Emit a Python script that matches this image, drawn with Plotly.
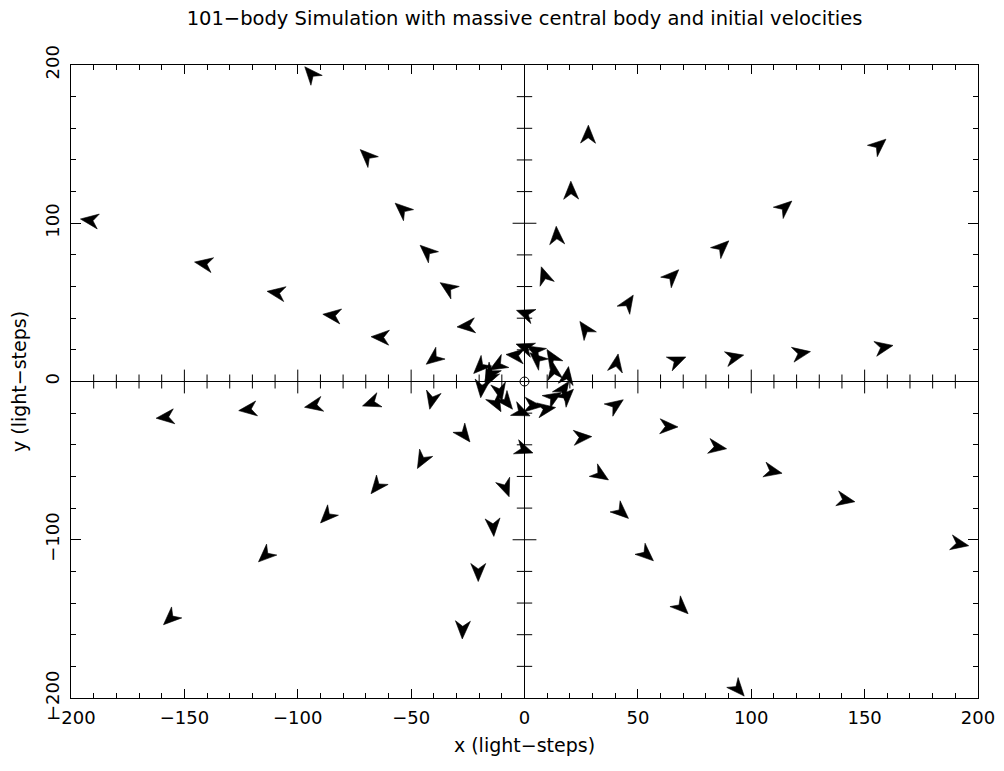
import math
import plotly.graph_objects as go

# ---- data: body positions (light-steps) and velocity direction (deg, clockwise from up) ----
body_x = [
    -94.3, -69.6, -54.1, -43.1, -33.9, -25.8,
    -191.9, -141.6, -109.6, -85.0, -63.7, -40.2,
    -158.5, -122.1, -93.1, -67.7, -40.9,
    -156.3, -114.4, -87.2, -65.2, -45.3, -26.5,
    -27.3, -20.4, -13.8, -8.2, 0.0,
    94.3, 69.3, 53.9, 42.9, 33.7, 25.7,
    192.0, 141.8, 109.7, 85.2, 63.7, 40.3,
    158.6, 122.2, 92.8, 67.5, 40.6,
    156.4, 114.9, 87.2, 65.2, 45.8, 26.7,
    28.1, 20.5, 14.2, 8.7, 0.2,
    0.0, -4.2, 5.4, 12.0, 12.9, 18.8, 17.3, 18.8, 12.9, 9.8, 3.9,
    -1.2, -7.8, -12.3, -10.8, -18.9, -15.7, -19.6, -12.0, -15.2, 4.6,
]
body_y = [
    194.6, 142.6, 108.9, 82.3, 59.3, 35.0,
    101.9, 74.5, 56.1, 41.8, 28.0, 14.4,
    -22.6, -17.7, -15.2, -13.5, -12.0,
    -149.8, -110.1, -85.3, -66.5, -50.0, -33.7,
    -157.0, -120.7, -92.2, -67.5, -43.2,
    -194.5, -142.8, -109.5, -82.7, -59.1, -35.2,
    -102.7, -74.9, -56.8, -41.6, -28.5, -14.8,
    21.7, 17.9, 15.4, 13.3, 11.8,
    149.4, 110.3, 85.0, 66.6, 49.8, 33.3,
    156.3, 120.9, 92.4, 67.1, 43.0,
    21.7, 16.5, 14.4, 15.4, 7.0, 3.8, -4.6, -8.9, -9.9, -17.3, -15.2,
    -19.4, -13.1, -14.1, -6.8, -4.6, 1.7, 9.1, 10.1, 4.9, 19.6,
]
body_dir = [
    319, 314, 312, 312, 304, 265,
    278, 280, 279, 277, 273, 232,
    264, 263, 259, 250, 193,
    227, 227, 224, 219, 209, 142,
    182, 180, 176, 159, 110,
    139, 134, 132, 132, 123, 86,
    101, 101, 102, 99, 92, 55,
    79, 80, 77, 67, 10,
    49, 49, 47, 45, 33, 325,
    1, 359, 357, 341, 290,
    290, 276, 311, 328, 351, 9, 35, 45, 58, 81, 96,
    114, 141, 151, 168, 186, 206, 225, 240, 215, 300,
]
central_x = [0.0]
central_y = [0.0]

TITLE = "101\u2212body Simulation with massive central body and initial velocities"
XLABEL = "x (light\u2212steps)"
YLABEL = "y (light\u2212steps)"

# ---- layout geometry (page has an 8px body margin) ----
W, H = 996, 763
M = dict(l=63, r=26, t=57, b=73)
XR = [-200, 200]
YR = [-200, 200]
sx = (W - M["l"] - M["r"]) / (XR[1] - XR[0])  # px per unit
sy = (H - M["t"] - M["b"]) / (YR[1] - YR[0])

FONT = "DejaVu Sans"

# arrowhead geometry (pixels)
L = 18.0
HW = 7.5
VENT = 0.3

ax_, ay_ = [], []
for x, y, b in zip(body_x, body_y, body_dir):
    r = math.radians(b)
    ux, uy = math.sin(r), math.cos(r)      # screen right, screen up
    qx, qy = uy, -ux                        # perpendicular
    pts = [
        (0.5 * L * ux, 0.5 * L * uy),
        (-0.5 * L * ux + HW * qx, -0.5 * L * uy + HW * qy),
        ((0.5 - 1 + VENT) * L * ux, (0.5 - 1 + VENT) * L * uy),
        (-0.5 * L * ux - HW * qx, -0.5 * L * uy - HW * qy),
        (0.5 * L * ux, 0.5 * L * uy),
    ]
    for dx, dy in pts:
        ax_.append(x + dx / sx)
        ay_.append(y + dy / sy)
    ax_.append(None)
    ay_.append(None)

fig = go.Figure()

# ticks on the zero axes (crossing ticks)
xt_minor = [v for v in range(-190, 200, 10) if v % 50 != 0]
xt_major = [v for v in range(-150, 200, 50) if v != 0]
yt_minor = [v for v in range(-180, 200, 20) if v % 100 != 0]
yt_major = [-100, 100]

fig.add_trace(go.Scatter(x=xt_minor, y=[0] * len(xt_minor), mode="markers",
                         marker=dict(symbol="line-ns", size=10, line=dict(color="black", width=1)),
                         hoverinfo="skip", showlegend=False))
fig.add_trace(go.Scatter(x=xt_major, y=[0] * len(xt_major), mode="markers",
                         marker=dict(symbol="line-ns", size=17, line=dict(color="black", width=1)),
                         hoverinfo="skip", showlegend=False))
fig.add_trace(go.Scatter(x=[0] * len(yt_minor), y=yt_minor, mode="markers",
                         marker=dict(symbol="line-ew", size=11, line=dict(color="black", width=1)),
                         hoverinfo="skip", showlegend=False))
fig.add_trace(go.Scatter(x=[0] * len(yt_major), y=yt_major, mode="markers",
                         marker=dict(symbol="line-ew", size=17, line=dict(color="black", width=1)),
                         hoverinfo="skip", showlegend=False))

# arrows
fig.add_trace(go.Scatter(x=ax_, y=ay_, mode="lines", fill="toself",
                         fillcolor="black", line=dict(color="black", width=0.6),
                         hoverinfo="skip", showlegend=False))

# central body
fig.add_trace(go.Scatter(x=central_x, y=central_y, mode="markers",
                         marker=dict(symbol="circle-open", size=9, color="black",
                                     line=dict(color="black", width=1)),
                         hoverinfo="skip", showlegend=False))

axis_common = dict(
    showgrid=False, zeroline=True, zerolinecolor="black", zerolinewidth=1,
    showline=True, linecolor="black", linewidth=1, mirror="allticks",
    ticks="inside", tickcolor="black", tickwidth=1, automargin=False,
    tickfont=dict(family=FONT, size=18, color="black"),
)

fig.update_layout(
    width=W, height=H, margin=dict(M, autoexpand=False),
    paper_bgcolor="white", plot_bgcolor="white",
    showlegend=False,
    title=dict(text=TITLE, x=0.5, xref="paper", xanchor="center",
               y=1 - 10 / H, yref="container", yanchor="middle", automargin=False,
               font=dict(family=FONT, size=19.5, color="black")),
    xaxis=dict(axis_common, range=XR, dtick=50, tick0=0, ticklen=9,
               minor=dict(dtick=10, tick0=0, ticklen=5, ticks="inside", tickcolor="black", tickwidth=1),
               ticklabelstandoff=3,
               title=dict(text=XLABEL, font=dict(family=FONT, size=19, color="black"), standoff=12)),
    yaxis=dict(axis_common, range=YR, dtick=100, tick0=0, ticklen=10, tickangle=-90,
               minor=dict(dtick=20, tick0=0, ticklen=5, ticks="inside", tickcolor="black", tickwidth=1),
               ticklabelstandoff=4,
               title=dict(text=YLABEL, font=dict(family=FONT, size=19, color="black"), standoff=10)),
)

fig.write_html("out.html")
